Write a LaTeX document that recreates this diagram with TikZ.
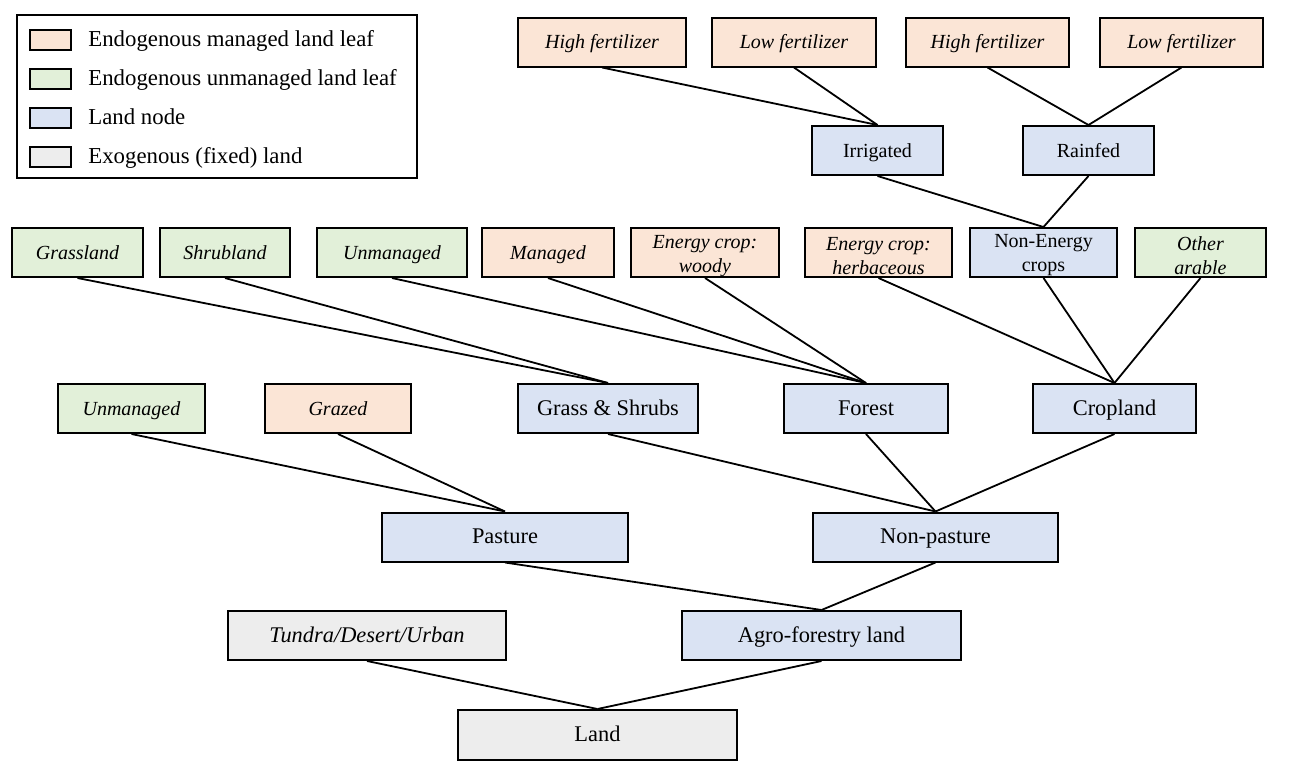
\documentclass[tikz,border=0pt]{standalone}
\usepackage{fontspec}
\setmainfont{Liberation Serif}
\definecolor{mgcol}{HTML}{FBE5D6}
\definecolor{umcol}{HTML}{E2F0D9}
\definecolor{lncol}{HTML}{DAE3F3}
\definecolor{excol}{HTML}{EDEDED}
\tikzset{
  bx/.style={draw=black, line width=1pt, inner sep=0pt, minimum height=24.5pt, align=center, text=black},
  one/.style={text height=0.8em, text depth=0.14em},
  small/.style={font=\fontsize{10}{12}\selectfont},
  big/.style={font=\fontsize{11.2}{13.4}\selectfont},
  mleaf/.style={bx, fill=mgcol, font=\fontsize{10}{12}\selectfont\itshape},
  uleaf/.style={bx, fill=umcol, font=\fontsize{10}{12}\selectfont\itshape},
  lnode/.style={bx, fill=lncol},
  exo/.style={bx, fill=excol},
  two/.style={inner sep=0pt, align=center, text=black, font=\fontsize{10}{12}\selectfont},
  twoit/.style={two, font=\fontsize{10}{12}\selectfont\itshape},
  link/.style={draw=black, line width=0.9pt},
  swatch/.style={draw=black, line width=1pt, minimum width=20.5pt, minimum height=10pt, inner sep=0pt},
  legtext/.style={anchor=west, inner sep=0pt, one, font=\fontsize{11.4}{13.7}\selectfont}
}
\begin{document}
\begin{tikzpicture}[x=0.5pt, y=-0.5pt]
\useasboundingbox (0,0) rectangle (1291,771);
% legend
\node[draw=black, line width=1pt, minimum width=200pt, minimum height=81.5pt, inner sep=0pt] (legend) at (217,96.5) {};
\node[swatch, fill=mgcol] (s1) at (50.5,40) {};
\node[swatch, fill=umcol] (s2) at (50.5,79) {};
\node[swatch, fill=lncol] (s3) at (50.5,118) {};
\node[swatch, fill=excol] (s4) at (50.5,157) {};
\node[legtext] (t1) at (88,40) {Endogenous managed land leaf};
\node[legtext] (t2) at (88,79) {Endogenous unmanaged land leaf};
\node[legtext] (t3) at (88,118) {Land node};
\node[legtext] (t4) at (88,157) {Exogenous (fixed) land};
% row 1
\node[mleaf, one, minimum width=84pt] (hf1) at (602,42) {High fertilizer};
\node[mleaf, one, minimum width=82pt] (lf1) at (794,42) {Low fertilizer};
\node[mleaf, one, minimum width=81.5pt] (hf2) at (987.5,42) {High fertilizer};
\node[mleaf, one, minimum width=81.5pt] (lf2) at (1181.5,42) {Low fertilizer};
% row 2
\node[lnode, small, one, minimum width=65.5pt] (irr) at (877.5,150.5) {Irrigated};
\node[lnode, small, one, minimum width=65.5pt] (rain) at (1088.5,150.5) {Rainfed};
% row 3
\node[uleaf, one, minimum width=65.5pt] (grl) at (77.5,252.5) {Grassland};
\node[uleaf, one, minimum width=65pt] (shl) at (225,252.5) {Shrubland};
\node[uleaf, one, minimum width=75pt] (unf) at (392,252.5) {Unmanaged};
\node[mleaf, one, minimum width=66pt] (mgf) at (548,252.5) {Managed};
\node[mleaf, minimum width=74pt] (ecw) at (705,252.5) {};
\node[twoit] (ecwt) at (705,256) {Energy crop:\\woody};
\node[mleaf, minimum width=73.5pt] (ech) at (878.5,252.5) {};
\node[twoit] (echt) at (878.5,256) {Energy crop:\\herbaceous};
\node[lnode, small, minimum width=73.5pt] (nec) at (1043.5,252.5) {};
\node[two] (nect) at (1043.5,255) {Non-Energy\\crops};
\node[uleaf, minimum width=65.5pt] (oar) at (1200.5,252.5) {};
\node[twoit] (oart) at (1200.5,256) {Other\\arable};
% row 4
\node[uleaf, one, minimum width=73.5pt] (unp) at (131.5,408.5) {Unmanaged};
\node[mleaf, one, minimum width=73pt] (grz) at (338,408.5) {Grazed};
\node[lnode, big, one, minimum width=90pt] (gs) at (608,408.5) {Grass \& Shrubs};
\node[lnode, big, one, minimum width=82pt] (for) at (866,408.5) {Forest};
\node[lnode, big, one, minimum width=81.5pt] (crp) at (1114.5,408.5) {Cropland};
% row 5
\node[lnode, big, one, minimum width=123pt] (pas) at (505,537) {Pasture};
\node[lnode, big, one, minimum width=122.5pt] (npas) at (935.5,537) {Non-pasture};
% row 6
\node[exo, one, minimum width=139pt, font=\fontsize{11.2}{13.4}\selectfont\itshape] (tdu) at (367,635.5) {Tundra/Desert/Urban};
\node[lnode, big, one, minimum width=139.5pt] (agro) at (821.5,635.5) {Agro-forestry land};
% row 7
\node[exo, big, one, minimum width=139.5pt, minimum height=25pt] (land) at (597.5,735) {Land};
% links
\draw[link] (hf1.south) -- (irr.north);
\draw[link] (lf1.south) -- (irr.north);
\draw[link] (hf2.south) -- (rain.north);
\draw[link] (lf2.south) -- (rain.north);
\draw[link] (irr.south) -- (nec.north);
\draw[link] (rain.south) -- (nec.north);
\draw[link] (grl.south) -- (gs.north);
\draw[link] (shl.south) -- (gs.north);
\draw[link] (unf.south) -- (for.north);
\draw[link] (mgf.south) -- (for.north);
\draw[link] (ecw.south) -- (for.north);
\draw[link] (ech.south) -- (crp.north);
\draw[link] (nec.south) -- (crp.north);
\draw[link] (oar.south) -- (crp.north);
\draw[link] (unp.south) -- (pas.north);
\draw[link] (grz.south) -- (pas.north);
\draw[link] (gs.south) -- (npas.north);
\draw[link] (for.south) -- (npas.north);
\draw[link] (crp.south) -- (npas.north);
\draw[link] (pas.south) -- (agro.north);
\draw[link] (npas.south) -- (agro.north);
\draw[link] (tdu.south) -- (land.north);
\draw[link] (agro.south) -- (land.north);
\end{tikzpicture}
\end{document}
